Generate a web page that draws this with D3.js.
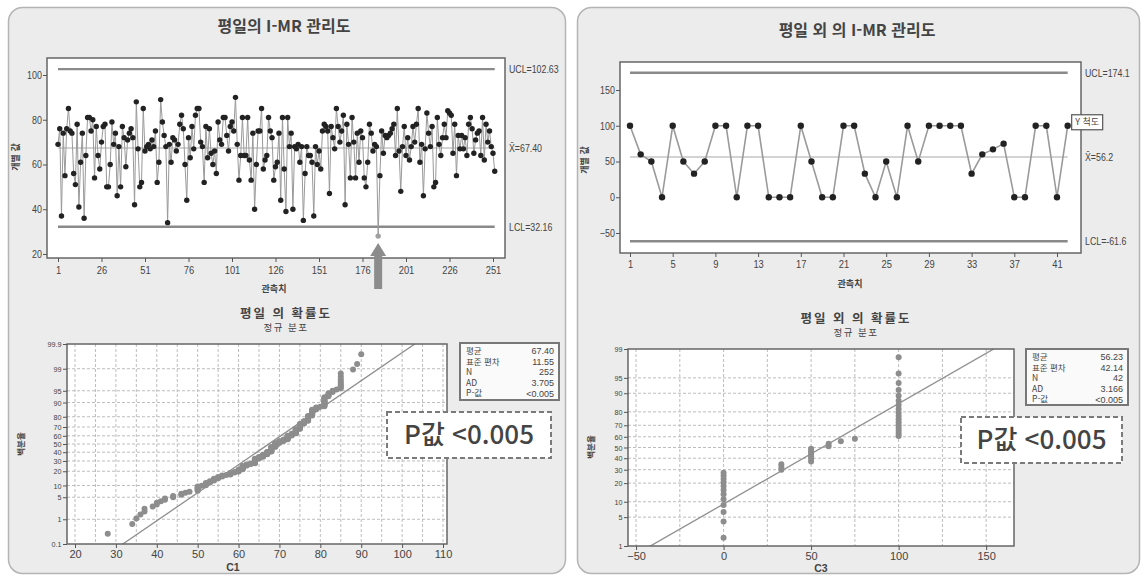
<!DOCTYPE html>
<html lang="ko">
<head>
<meta charset="utf-8">
<title>I-MR 관리도</title>
<script src="https://d3js.org/d3.v7.min.js"></script>
<style>
  body { margin: 0; background: #fff; }
  text { font-family: "Liberation Sans", "Noto Sans CJK KR", sans-serif; fill: #444; }
  .kr { font-family: "Noto Sans CJK KR", sans-serif; }
</style>
</head>
<body>
<script>
// 1. data
const weekdayObs = [
  69, 76, 37, 74, 55, 76, 85, 75, 74, 56,
  51, 78, 41, 61, 74, 36, 64, 81, 81, 75,
  80, 54, 77, 64, 58, 70, 77, 78, 50, 50,
  60, 79, 69, 74, 46, 68, 50, 77, 72, 59,
  71, 74, 76, 72, 42, 88, 67, 50, 52, 85,
  66, 68, 69, 67, 71, 68, 75, 52, 61, 89,
  79, 73, 68, 34, 69, 61, 72, 71, 66, 69,
  78, 82, 76, 60, 44, 72, 63, 77, 67, 82,
  85, 85, 70, 68, 52, 77, 63, 76, 65, 60,
  66, 56, 79, 71, 69, 81, 81, 73, 66, 77,
  79, 75, 90, 69, 53, 64, 81, 64, 64, 81,
  62, 53, 74, 40, 60, 75, 75, 85, 58, 62,
  64, 81, 75, 72, 53, 59, 61, 74, 44, 81,
  58, 39, 81, 68, 74, 40, 68, 67, 69, 61,
  68, 35, 56, 68, 64, 64, 61, 37, 68, 60,
  66, 58, 75, 78, 77, 75, 47, 77, 72, 67,
  85, 77, 70, 75, 82, 42, 78, 69, 54, 81,
  70, 54, 74, 61, 75, 72, 54, 50, 61, 78,
  74, 66, 69, 68, 28, 55, 75, 65, 73, 72,
  73, 74, 76, 78, 64, 85, 66, 48, 68, 77,
  64, 72, 62, 68, 77, 70, 78, 85, 61, 69,
  46, 67, 83, 74, 68, 77, 50, 52, 81, 69,
  64, 72, 78, 72, 84, 83, 82, 65, 78, 55,
  73, 67, 73, 67, 72, 64, 78, 81, 76, 65,
  71, 74, 75, 64, 81, 62, 78, 70, 75, 68,
  65, 57
];
const weekendObs = [100, 60, 50, 0, 100, 50, 33, 50, 100, 100,
  0, 100, 100, 0, 0, 0, 100, 50, 0, 0,
  100, 100, 33, 0, 50, 0, 100, 50, 100, 100,
  100, 100, 33, 60, 67, 75, 0, 0, 100, 100,
  0, 100];

const weekdayLimits = [102.63, 67.40, 32.16];
const weekdayLimitLabels = ["UCL=102.63", "X̄=67.40", "LCL=32.16"];
const weekendLimits = [174.1, 56.2, -61.6];
const weekendLimitLabels = ["UCL=174.1", "X̄=56.2", "LCL=-61.6"];

const weekdayXTicks = [1, 26, 51, 76, 101, 126, 151, 176, 201, 226, 251];
const weekendXTicks = [1, 5, 9, 13, 17, 21, 25, 29, 33, 37, 41];
const weekdayYTicks = [20, 40, 60, 80, 100];
const weekendYTicks = [-50, 0, 50, 100, 150];

const weekdayPctTicks = [0.1, 1, 5, 10, 20, 30, 40, 50, 60, 70, 80, 90, 95, 99, 99.9];
const weekendPctTicks = [1, 5, 10, 20, 30, 40, 50, 60, 70, 80, 90, 95, 99];
const weekdayC1Ticks = [20, 30, 40, 50, 60, 70, 80, 90, 100, 110];
const weekendC3Ticks = [-50, 0, 50, 100, 150];

const statNames = ["평균", "표준 편차", "N", "AD", "P-값"];
const weekdayStats = ["67.40", "11.55", "252", "3.705", "<0.005"];
const weekendStats = ["56.23", "42.14", "42", "3.166", "<0.005"];
const weekdayFit = [67.40, 11.55];
const weekendFit = [56.23, 42.14];
const pValueNote = "P값 <0.005";

// inverse normal cdf (Acklam)
function probit(p) {
  const a = [-39.69683028665376, 220.9460984245205, -275.9285104469687, 138.3577518672690, -30.66479806614716, 2.506628277459239];
  const b = [-54.47609879822406, 161.5858368580409, -155.6989798598866, 66.80131188771972, -13.28068155288572];
  const c = [-0.007784894002430293, -0.3223964580411365, -2.400758277161838, -2.549732539343734, 4.374664141464968, 2.938163982698783];
  const d = [0.007784695709041462, 0.3224671290700398, 2.445134137142996, 3.754408661907416];
  const pl = 0.02425;
  let q, r;
  if (p < pl) {
    q = Math.sqrt(-2 * Math.log(p));
    return (((((c[0]*q+c[1])*q+c[2])*q+c[3])*q+c[4])*q+c[5]) / ((((d[0]*q+d[1])*q+d[2])*q+d[3])*q+1);
  }
  if (p > 1 - pl) {
    q = Math.sqrt(-2 * Math.log(1 - p));
    return -(((((c[0]*q+c[1])*q+c[2])*q+c[3])*q+c[4])*q+c[5]) / ((((d[0]*q+d[1])*q+d[2])*q+d[3])*q+1);
  }
  q = p - 0.5; r = q * q;
  return (((((a[0]*r+a[1])*r+a[2])*r+a[3])*r+a[4])*r+a[5])*q / (((((b[0]*r+b[1])*r+b[2])*r+b[3])*r+b[4])*r+1);
}

// 2. svg + panels
const svg = d3.select("body").append("svg")
  .attr("width", 1145).attr("height", 577);

svg.append("rect").attr("x", 8.5).attr("y", 7.5).attr("width", 557).attr("height", 566)
  .attr("rx", 14).attr("fill", "#ececec").attr("stroke", "#b4b4b4").attr("stroke-width", 1.5);
svg.append("rect").attr("x", 577.5).attr("y", 7.5).attr("width", 562).attr("height", 566)
  .attr("rx", 14).attr("fill", "#ececec").attr("stroke", "#b4b4b4").attr("stroke-width", 1.5);

// narrow look for tick text
function styleAxis(g, size, sx) {
  g.select(".domain").remove();
  g.selectAll(".tick line").attr("stroke", "#555");
  g.selectAll(".tick text").attr("fill", "#444").style("font-size", size + "px")
    .attr("transform", `scale(${sx || 0.85},1)`);
}

// 3. I chart
function iChart(o) {
  const g = svg.append("g");
  const [fx0, fy0, fx1, fy1] = o.frame;
  const x = d3.scaleLinear().domain([1, o.xEnd]).range(o.xRange);
  const y = d3.scaleLinear().domain(o.yDomain).range([fy1, fy0]);
  const n = o.data.length;

  g.append("rect").attr("x", fx0).attr("y", fy0).attr("width", fx1 - fx0).attr("height", fy1 - fy0)
    .attr("fill", "#fff").attr("stroke", "#666").attr("stroke-width", 1.5);

  // limit lines
  g.selectAll(".lim").data(o.limits).join("line")
    .attr("x1", x(1)).attr("x2", x(n))
    .attr("y1", d => y(d)).attr("y2", d => y(d))
    .attr("stroke", (d, i) => i === 1 ? "#c4c4c4" : "#8a8a8a")
    .attr("stroke-width", (d, i) => i === 1 ? 1.4 : 2.4);

  g.append("path").datum(o.data)
    .attr("d", d3.line().x((d, i) => x(i + 1)).y(d => y(d)))
    .attr("fill", "none").attr("stroke", "#9a9a9a").attr("stroke-width", o.lw);

  g.selectAll(".pt").data(o.data).join("circle")
    .attr("cx", (d, i) => x(i + 1)).attr("cy", d => y(d)).attr("r", o.r)
    .attr("fill", d => (d < o.limits[2] || d > o.limits[0]) ? "#a0a0a0" : "#222");

  g.append("g").attr("transform", `translate(${fx0},0)`)
    .call(d3.axisLeft(y).tickValues(o.yTicks).tickSize(4).tickPadding(2))
    .call(a => styleAxis(a, 10.5));
  g.append("g").attr("transform", `translate(0,${fy1})`)
    .call(d3.axisBottom(x).tickValues(o.xTicks).tickSize(4).tickPadding(o.xPad))
    .call(a => styleAxis(a, 11));

  g.selectAll(".limlab").data(o.limits).join("text")
    .attr("transform", d => `translate(${fx1 + 4},${y(d)}) scale(0.8,1)`)
    .attr("dy", "0.35em").style("font-size", "11px")
    .text((d, i) => o.limitLabels[i]);

  g.append("text").attr("class", "kr").attr("x", o.title[1]).attr("y", o.title[2])
    .attr("text-anchor", "middle").style("font-size", "16px").style("font-weight", 700)
    .attr("fill", "#555").text(o.title[0]);
  g.append("text").attr("class", "kr")
    .attr("transform", `translate(${o.yLab[0]},${o.yLab[1]}) rotate(-90)`)
    .attr("text-anchor", "middle").style("font-size", "9px").style("font-weight", 700)
    .text("개별 값");
  g.append("text").attr("class", "kr").attr("x", o.xLab[0]).attr("y", o.xLab[1])
    .attr("text-anchor", "middle").style("font-size", "9px").style("font-weight", 700)
    .text("관측치");
  return {g, x, y};
}

const left = iChart({
  data: weekdayObs, limits: weekdayLimits, limitLabels: weekdayLimitLabels,
  frame: [47, 58, 505, 258], xEnd: 251, xRange: [58, 493], yDomain: [18.2, 107.6],
  xTicks: weekdayXTicks, yTicks: weekdayYTicks, r: 2.7, lw: 1, xPad: 4,
  title: ["평일의 I-MR 관리도", 284, 32], yLab: [19, 157], xLab: [274, 292]
});

// arrow to the point below LCL
const outIdx = weekdayObs.findIndex(d => d < weekdayLimits[2]);
const ax = left.x(outIdx + 1), ay = left.y(weekdayObs[outIdx]) + 7;
left.g.append("path")
  .attr("d", `M${ax},${ay} L${ax + 8},${ay + 13} L${ax + 4},${ay + 13} L${ax + 4},${ay + 46} L${ax - 4},${ay + 46} L${ax - 4},${ay + 13} L${ax - 8},${ay + 13} Z`)
  .attr("fill", "#8c8c8c");

const right = iChart({
  data: weekendObs, limits: weekendLimits, limitLabels: weekendLimitLabels,
  frame: [620, 62, 1081, 253], xEnd: 41, xRange: [630, 1057], yDomain: [-78, 189.2],
  xTicks: weekendXTicks, yTicks: weekendYTicks, r: 3.2, lw: 1.6, xPad: 3,
  title: ["평일 외 의 I-MR 관리도", 857, 36], yLab: [588, 160], xLab: [850, 287]
});

// Y scale marker box at last point
const lastX = right.x(weekendObs.length), lastY = right.y(weekendObs[weekendObs.length - 1]);
right.g.append("rect").attr("x", lastX + 4).attr("y", lastY - 11).attr("width", 31).attr("height", 15)
  .attr("fill", "#fff").attr("stroke", "#555").attr("stroke-width", 1.2);
right.g.append("text").attr("class", "kr").attr("x", lastX + 19.5).attr("y", lastY - 3.5)
  .attr("dy", "0.35em").attr("text-anchor", "middle").style("font-size", "9px").text("Y 척도");

// 4. normal probability plots
function probPlot(o) {
  const g = svg.append("g");
  const [fx0, fy0, fx1, fy1] = o.frame;
  const x = d3.scaleLinear().domain(o.xDomain).range([fx0, fx1]);
  const y = d3.scaleLinear().domain([probit(o.pRange[0] / 100), probit(o.pRange[1] / 100)]).range([fy1, fy0]);
  const clipId = "clip" + o.id;

  g.append("clipPath").attr("id", clipId).append("rect")
    .attr("x", fx0).attr("y", fy0).attr("width", fx1 - fx0).attr("height", fy1 - fy0);
  g.append("rect").attr("x", fx0).attr("y", fy0).attr("width", fx1 - fx0).attr("height", fy1 - fy0)
    .attr("fill", "#fff");

  // grid
  const vGrid = d3.range(Math.ceil(o.xDomain[0] / o.gridStep) * o.gridStep, o.xDomain[1], o.gridStep);
  g.selectAll(".vg").data(vGrid).join("line")
    .attr("x1", d => x(d)).attr("x2", d => x(d)).attr("y1", fy0).attr("y2", fy1)
    .attr("stroke", "#bdbdbd").attr("stroke-dasharray", "3,2");
  g.selectAll(".hg").data(o.pTicks.filter(p => p > o.pRange[0] && p < o.pRange[1])).join("line")
    .attr("x1", fx0).attr("x2", fx1).attr("y1", d => y(probit(d / 100))).attr("y2", d => y(probit(d / 100)))
    .attr("stroke", "#bdbdbd").attr("stroke-dasharray", "3,2");

  // fitted line
  const [mu, sd] = o.fit;
  const z0 = y.domain()[0] - 0.5, z1 = y.domain()[1] + 0.5;
  g.append("line").attr("clip-path", `url(#${clipId})`)
    .attr("x1", x(mu + z0 * sd)).attr("y1", y(z0))
    .attr("x2", x(mu + z1 * sd)).attr("y2", y(z1))
    .attr("stroke", "#8f8f8f").attr("stroke-width", 1.3);

  // points at median ranks
  const sorted = o.data.slice().sort((a, b) => a - b);
  const n = sorted.length;
  g.selectAll(".pp").data(sorted).join("circle")
    .attr("cx", d => x(d)).attr("cy", (d, i) => y(probit((i + 1 - 0.3) / (n + 0.4))))
    .attr("r", 3).attr("fill", "#8d8d8d");

  g.append("rect").attr("x", fx0).attr("y", fy0).attr("width", fx1 - fx0).attr("height", fy1 - fy0)
    .attr("fill", "none").attr("stroke", "#666").attr("stroke-width", 1.5);

  const yAxis = d3.axisLeft(y).tickValues(o.pTicks.map(p => probit(p / 100)))
    .tickFormat((d, i) => String(o.pTicks[i])).tickSize(4).tickPadding(2);
  g.append("g").attr("transform", `translate(${fx0},0)`).call(yAxis).call(a => styleAxis(a, 8, 0.9));
  g.append("g").attr("transform", `translate(0,${fy1})`)
    .call(d3.axisBottom(x).tickValues(o.xTicks).tickSize(4).tickPadding(2))
    .call(a => styleAxis(a, 11, 1));

  g.append("text").attr("class", "kr").attr("x", o.title[1]).attr("y", o.title[2])
    .attr("text-anchor", "middle").style("font-size", "12.5px").style("font-weight", 700)
    .style("letter-spacing", "2px").text(o.title[0]);
  g.append("text").attr("class", "kr").attr("x", o.title[1]).attr("y", o.title[2] + 13)
    .attr("text-anchor", "middle").style("font-size", "9.5px").style("letter-spacing", "1.5px").text("정규 분포");
  g.append("text").attr("x", o.xLab[0]).attr("y", o.xLab[1])
    .attr("text-anchor", "middle").style("font-size", "10.5px").style("font-weight", 700).text(o.xLab[2]);
  g.append("text").attr("class", "kr")
    .attr("transform", `translate(${o.yLab[0]},${o.yLab[1]}) rotate(-90)`)
    .attr("text-anchor", "middle").style("font-size", "8.5px").style("font-weight", 700).text("백분율");

  // stats box
  const [bx, by, bw, bh] = o.statBox;
  g.append("rect").attr("x", bx).attr("y", by).attr("width", bw).attr("height", bh)
    .attr("fill", "#fafafa").attr("stroke", "#777").attr("stroke-width", 2);
  statNames.forEach((s, i) => {
    g.append("text").attr("class", "kr").attr("x", bx + 6).attr("y", by + 8 + i * 10.6)
      .attr("dy", "0.35em").style("font-size", "8.5px").text(s);
    g.append("text").attr("x", bx + bw - 5).attr("y", by + 8 + i * 10.6)
      .attr("dy", "0.35em").attr("text-anchor", "end").style("font-size", "9px").text(o.stats[i]);
  });

  // p-value callout
  const [cx, cy, cw, ch] = o.callout;
  g.append("rect").attr("x", cx).attr("y", cy).attr("width", cw).attr("height", ch)
    .attr("fill", "#fff").attr("stroke", "#7a7a7a").attr("stroke-width", 2).attr("stroke-dasharray", "5,3");
  g.append("text").attr("class", "kr").attr("x", cx + cw / 2).attr("y", cy + ch / 2)
    .attr("dy", "0.36em").attr("text-anchor", "middle").style("font-size", "26px").style("font-weight", 500)
    .attr("fill", "#222").text(pValueNote);
}

probPlot({
  id: "L", data: weekdayObs, fit: weekdayFit, frame: [67, 344, 447, 544],
  xDomain: [18.04, 110.98], xTicks: weekdayC1Ticks, gridStep: 5,
  pRange: [0.1, 99.9], pTicks: weekdayPctTicks,
  title: ["평일 의 확률도", 286, 318], xLab: [233, 571, "C1"], yLab: [24, 444],
  statBox: [460, 343, 99, 57], stats: weekdayStats, callout: [387, 412, 164, 46]
});

probPlot({
  id: "R", data: weekendObs, fit: weekendFit, frame: [628, 349, 1014, 546],
  xDomain: [-54.6, 165.9], xTicks: weekendC3Ticks, gridStep: 25,
  pRange: [1, 99], pTicks: weekendPctTicks,
  title: ["평일 외 의 확률도", 856, 323], xLab: [821, 571.5, "C3"], yLab: [594, 447],
  statBox: [1026, 349, 102, 56], stats: weekendStats, callout: [961, 417, 161, 46]
});
</script>
</body>
</html>
